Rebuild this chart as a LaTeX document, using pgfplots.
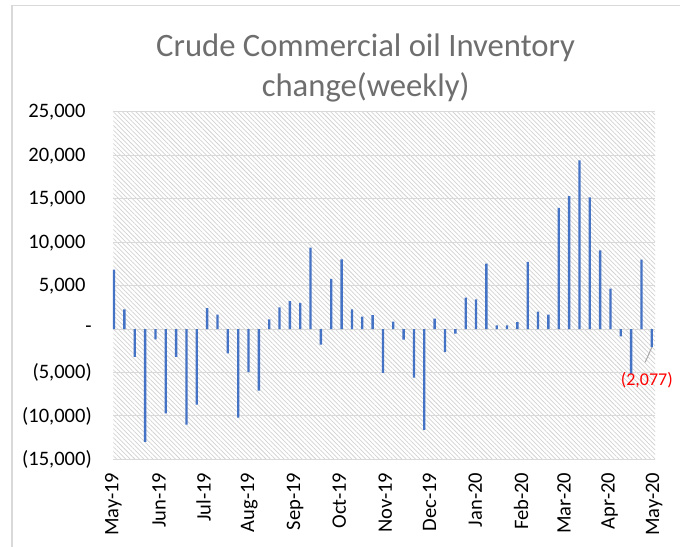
\documentclass[border=0pt]{standalone}
\usepackage{fontspec}
\setmainfont{Carlito}
\usepackage{pgfplots}
\pgfplotsset{compat=1.18}
\usetikzlibrary{patterns.meta}
\definecolor{barblue}{HTML}{4472C4}
\definecolor{gridgray}{HTML}{D9D9D9}
\definecolor{hatchgray}{HTML}{D2D2D2}
\definecolor{titlegray}{HTML}{6E6E6E}
\definecolor{labelred}{HTML}{FF0000}

\begin{document}
\begin{tikzpicture}
\begin{axis}[
  at={(0,0)}, anchor=south west,
  scale only axis, width=406.3pt, height=260.85pt,
  xmin=0, xmax=366.7, ymin=-15000, ymax=25000,
  scaled y ticks=false,
  axis lines*=left,
  axis line style={draw=none},
  axis background/.style={pattern={Lines[angle=-45,distance=2.4pt,line width=0.55pt]}, pattern color=hatchgray},
  ytick={-15000,-10000,-5000,0,5000,10000,15000,20000,25000},
  yticklabels={{(15,000)},{(10,000)},{(5,000)},{-\hspace{9pt}},{5,000\phantom{)}},{10,000\phantom{)}},{15,000\phantom{)}},{20,000\phantom{)}},{25,000\phantom{)}}},
  xtick={0,31,61,92,123,153,184,214,245,276,305,336,366},
  xticklabels={May-19,Jun-19,Jul-19,Aug-19,Sep-19,Oct-19,Nov-19,Dec-19,Jan-20,Feb-20,Mar-20,Apr-20,May-20},
  major tick length=0pt,
  ymajorgrids, grid style={gridgray, line width=0.75pt},
  tick label style={font=\fontsize{15.4}{18}\selectfont, text=black},
  yticklabel style={anchor=east, inner sep=0pt},
  yticklabel shift=16pt,
  xticklabel style={rotate=90, anchor=east, inner sep=0pt},
  xticklabel shift=9.75pt,
  clip=false,
]
\addplot[ybar, bar width=1.75pt, fill=barblue, draw=none] coordinates {
(0.5,6840) (7.5,2270) (14.5,-3200) (21.5,-12980) (28.5,-1200)
(35.5,-9700) (42.5,-3200) (49.5,-11000) (56.5,-8700) (63.5,2400)
(70.5,1650) (77.5,-2800) (84.5,-10200) (91.5,-4950) (98.5,-7070)
(105.5,1100) (112.5,2500) (119.5,3200) (126.5,3000) (133.5,9370)
(140.5,-1800) (147.5,5760) (154.5,8000) (161.5,2270) (168.5,1420)
(175.5,1600) (182.5,-5030) (189.5,840) (196.5,-1230) (203.5,-5600)
(210.5,-11600) (217.5,1190) (224.5,-2650) (231.5,-540) (238.5,3600)
(245.5,3420) (252.5,7530) (259.5,420) (266.5,420) (273.5,800)
(280.5,7720) (287.5,2000) (294.5,1650) (301.5,13940) (308.5,15280)
(315.5,19390) (322.5,15130) (329.5,9060) (336.5,4650) (343.5,-840)
(350.5,-5150) (357.5,7990) (364.5,-2077)
};
\draw[gray!70, line width=0.75pt] (axis cs:364.5,-2093) -- (axis cs:360,-3818);
\node[font=\fontsize{13.5}{16}\selectfont, text=labelred, inner sep=0pt] at (axis cs:361.1,-5854) {(2,077)};
\end{axis}
\node[anchor=base, font=\fontsize{24.5}{29}\selectfont, text=titlegray] at (189.2pt,301.9pt) {Crude Commercial oil Inventory};
\node[anchor=base, font=\fontsize{24.5}{29}\selectfont, text=titlegray] at (189.2pt,271.9pt) {change(weekly)};
\draw[gridgray, line width=1pt] (-76pt,-70pt) -- (-76pt,340.4pt) -- (430pt,340.4pt);
\pgfresetboundingbox
\useasboundingbox (-85pt,-64.9pt) rectangle (425pt,344.6pt);
\end{tikzpicture}
\end{document}
